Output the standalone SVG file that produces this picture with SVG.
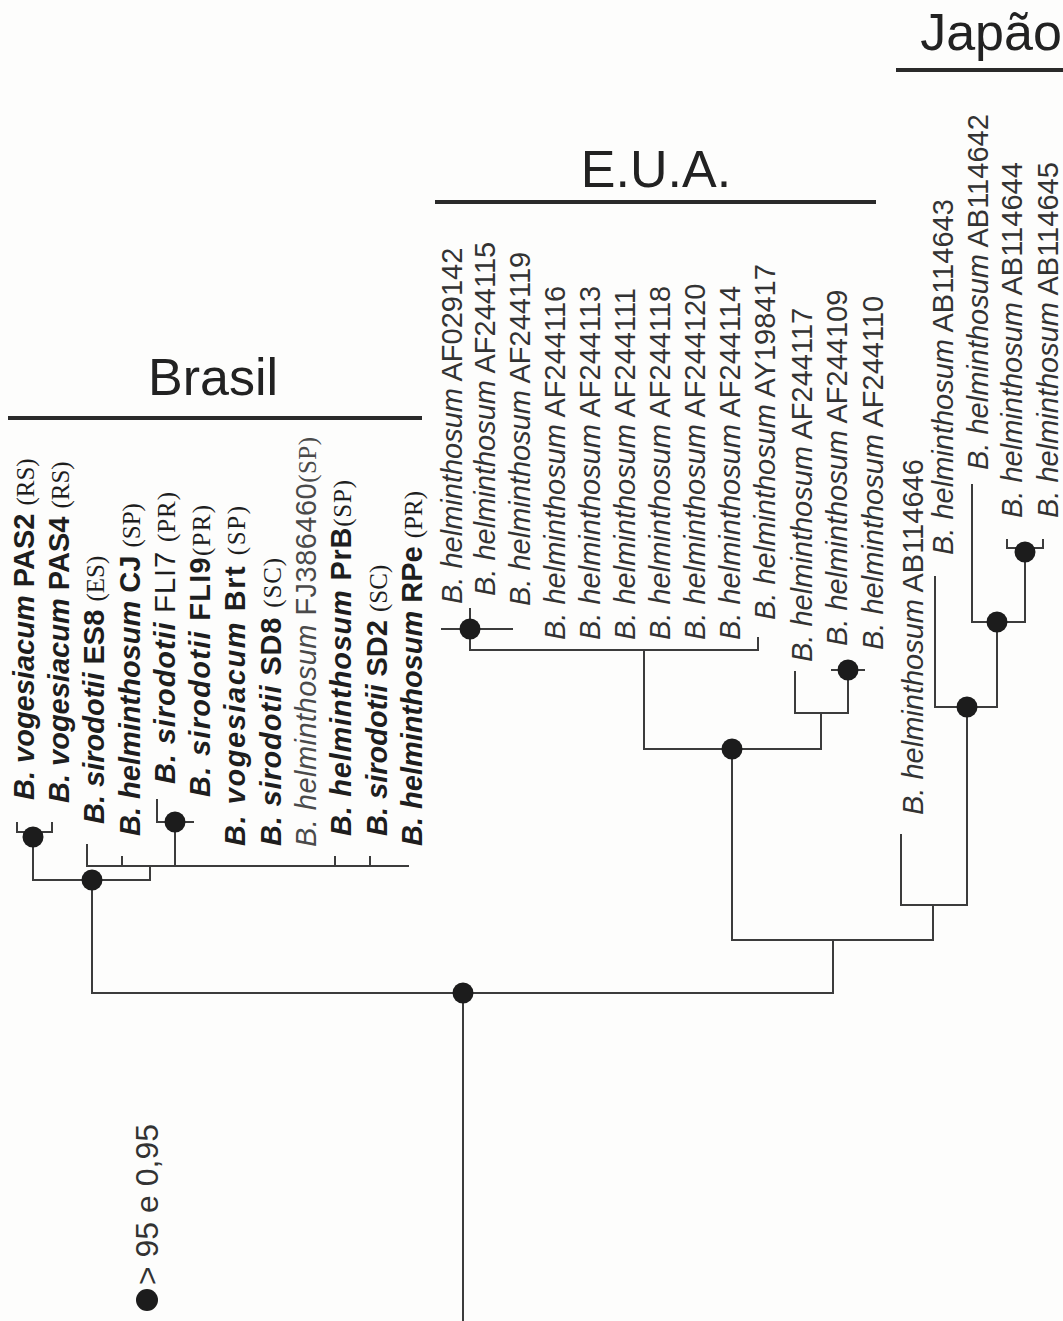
<svg xmlns="http://www.w3.org/2000/svg" width="1063" height="1321" viewBox="0 0 1063 1321">
<style>
.bg{fill:#fdfdfc}
.ed{stroke:#3c3c3c;stroke-width:2;fill:none;stroke-linecap:square}
.hd{stroke:#2a2a2a;stroke-width:4;fill:none}
.dot{fill:#1c1c1c}
.ttl{font-family:"Liberation Sans",Arial,sans-serif;font-size:52px;fill:#222;text-anchor:middle}
.bb{font-family:"Liberation Sans",Arial,sans-serif;font-size:29px;font-weight:bold;fill:#1e1e1e}
.it{font-style:italic}
.nb{font-weight:normal}
.st{font-family:"Liberation Serif","Times New Roman",serif;font-size:25px;font-weight:normal;font-style:normal}
.gr{fill:#4a4a4a}
.rg{font-family:"Liberation Sans",Arial,sans-serif;font-size:29px;fill:#333}
.lg{font-family:"Liberation Sans",Arial,sans-serif;font-size:32px;fill:#333}
</style>
<rect class="bg" x="0" y="0" width="1063" height="1321"/>

<g id="headers">
<text class="ttl" x="213" y="395">Brasil</text>
<line class="hd" x1="8" y1="418" x2="422" y2="418"/>
<text class="ttl" x="656" y="187">E.U.A.</text>
<line class="hd" x1="435" y1="202" x2="876" y2="202"/>
<text class="ttl" x="991" y="50">Japão</text>
<line class="hd" x1="896" y1="70" x2="1063" y2="70"/>
</g>

<g id="connectors">
<path class="ed" d="M463,1321 V993 M92,993 H833 M92,993 V880 M33,880 H150 M33,880 V837 M17,823 V832 H52 V823 M150,880 V866 M87,866 H408 M87,866 V845 M122,866 V857 M175,866 V822 M157,800 V822 H193 M335,866 V857 M370,866 V857"/>
<path class="ed" d="M833,993 V940 M732,940 H933 M732,940 V749 M644,749 H821 M644,749 V650 M470,650 H758 M470,650 V609 M442,629 H512 M758,650 V638 M821,749 V713 M795,713 H848 M795,713 V672 M848,713 V670 M832,670 H864"/>
<path class="ed" d="M933,940 V905 M901,905 H967 M901,905 V835 M967,905 V707 M935,707 H997 M935,707 V577 M997,707 V622 M972,622 H1025 M972,622 V485 M1025,622 V552 M1007,540 V548 H1043 V540"/>
</g>

<g id="support-nodes">
<circle id="n_root" class="dot" cx="463" cy="993" r="10.5"/>
<circle id="n_brasil" class="dot" cx="92" cy="880" r="10.5"/>
<circle id="n_pas" class="dot" cx="33" cy="837" r="10.5"/>
<circle id="n_fli" class="dot" cx="175" cy="822" r="10.5"/>
<circle id="n_usa1" class="dot" cx="470" cy="629" r="10.5"/>
<circle id="n_usa" class="dot" cx="732" cy="749" r="10.5"/>
<circle id="n_usa2" class="dot" cx="848" cy="670" r="10.5"/>
<circle id="n_jp" class="dot" cx="967" cy="707" r="10.5"/>
<circle id="n_jp2" class="dot" cx="997" cy="622" r="10.5"/>
<circle id="n_jp3" class="dot" cx="1025" cy="552" r="10.5"/>
</g>

<g id="brasil-leaves">
<g id="l_pas2"><text class="bb" transform="translate(34,800) rotate(-90)"><tspan class="it">B. vogesiacum</tspan> PAS2 <tspan class="st">(RS)</tspan></text></g>
<g id="l_pas4"><text class="bb" transform="translate(69,803) rotate(-90)"><tspan class="it">B. vogesiacum</tspan> PAS4 <tspan class="st">(RS)</tspan></text></g>
<g id="l_es8"><text class="bb" transform="translate(104,824) rotate(-90)"><tspan class="it">B. sirodotii</tspan> ES8 <tspan class="st">(ES)</tspan></text></g>
<g id="l_cj"><text class="bb" transform="translate(140,836) rotate(-90)"><tspan class="it">B. helminthosum</tspan> CJ <tspan class="st">(SP)</tspan></text></g>
<g id="l_fli7"><text class="bb" transform="translate(175,784) rotate(-90)" textLength="292" lengthAdjust="spacing"><tspan class="it">B. sirodotii</tspan> <tspan class="nb">FLI7</tspan> <tspan class="st">(PR)</tspan></text></g>
<g id="l_fli9"><text class="bb" transform="translate(210,797) rotate(-90)" textLength="292" lengthAdjust="spacing"><tspan class="it">B. sirodotii</tspan> FLI9<tspan class="st">(PR)</tspan></text></g>
<g id="l_brt"><text class="bb" transform="translate(245,846) rotate(-90)" textLength="340" lengthAdjust="spacing"><tspan class="it">B. vogesiacum</tspan> Brt <tspan class="st">(SP)</tspan></text></g>
<g id="l_sd8"><text class="bb" transform="translate(281,846) rotate(-90)" textLength="288" lengthAdjust="spacing"><tspan class="it">B. sirodotii</tspan> SD8 <tspan class="st">(SC)</tspan></text></g>
<g id="l_fj"><text class="bb nb gr" transform="translate(316,847) rotate(-90)" textLength="410" lengthAdjust="spacing"><tspan class="it">B. helminthosum</tspan> FJ386460<tspan class="st">(SP)</tspan></text></g>
<g id="l_prb"><text class="bb" transform="translate(351,836) rotate(-90)" textLength="356" lengthAdjust="spacing"><tspan class="it">B. helminthosum</tspan> PrB<tspan class="st">(SP)</tspan></text></g>
<g id="l_sd2"><text class="bb" transform="translate(387,836) rotate(-90)"><tspan class="it">B. sirodotii</tspan> SD2 <tspan class="st">(SC)</tspan></text></g>
<g id="l_rpe"><text class="bb" transform="translate(422,846) rotate(-90)"><tspan class="it">B. helminthosum</tspan> RPe <tspan class="st">(PR)</tspan></text></g>
</g>

<g id="usa-leaves">
<g id="l_af029142"><text class="rg" transform="translate(462,604) rotate(-90)"><tspan class="it">B. helminthosum</tspan> AF029142</text></g>
<g id="l_af244115"><text class="rg" transform="translate(495,596) rotate(-90)"><tspan class="it">B. helminthosum</tspan> AF244115</text></g>
<g id="l_af244119"><text class="rg" transform="translate(530,606) rotate(-90)"><tspan class="it">B. helminthosum</tspan> AF244119</text></g>
<g id="l_af244116"><text class="rg" transform="translate(565,640) rotate(-90)"><tspan class="it">B. helminthosum</tspan> AF244116</text></g>
<g id="l_af244113"><text class="rg" transform="translate(600,640) rotate(-90)"><tspan class="it">B. helminthosum</tspan> AF244113</text></g>
<g id="l_af244111"><text class="rg" transform="translate(635,640) rotate(-90)"><tspan class="it">B. helminthosum</tspan> AF244111</text></g>
<g id="l_af244118"><text class="rg" transform="translate(670,640) rotate(-90)"><tspan class="it">B. helminthosum</tspan> AF244118</text></g>
<g id="l_af244120"><text class="rg" transform="translate(705,640) rotate(-90)"><tspan class="it">B. helminthosum</tspan> AF244120</text></g>
<g id="l_af244114"><text class="rg" transform="translate(740,640) rotate(-90)"><tspan class="it">B. helminthosum</tspan> AF244114</text></g>
<g id="l_ay198417"><text class="rg" transform="translate(775,620) rotate(-90)"><tspan class="it">B. helminthosum</tspan> AY198417</text></g>
<g id="l_af244117"><text class="rg" transform="translate(812,662) rotate(-90)"><tspan class="it">B. helminthosum</tspan> AF244117</text></g>
<g id="l_af244109"><text class="rg" transform="translate(847,646) rotate(-90)"><tspan class="it">B. helminthosum</tspan> AF244109</text></g>
<g id="l_af244110"><text class="rg" transform="translate(883,650) rotate(-90)"><tspan class="it">B. helminthosum</tspan> AF244110</text></g>
</g>

<g id="japan-leaves">
<g id="l_ab114646"><text class="rg" transform="translate(923,815) rotate(-90)"><tspan class="it">B. helminthosum</tspan> AB114646</text></g>
<g id="l_ab114643"><text class="rg" transform="translate(953,555) rotate(-90)"><tspan class="it">B. helminthosum</tspan> AB114643</text></g>
<g id="l_ab114642"><text class="rg" transform="translate(988,470) rotate(-90)"><tspan class="it">B. helminthosum</tspan> AB114642</text></g>
<g id="l_ab114644"><text class="rg" transform="translate(1022,518) rotate(-90)"><tspan class="it">B. helminthosum</tspan> AB114644</text></g>
<g id="l_ab114645"><text class="rg" transform="translate(1058,518) rotate(-90)"><tspan class="it">B. helminthosum</tspan> AB114645</text></g>
</g>

<g id="legend">
<circle class="dot" cx="147" cy="1300" r="11"/>
<text class="lg" transform="translate(158,1285) rotate(-90)">&gt; 95 e 0,95</text>
</g>
</svg>
